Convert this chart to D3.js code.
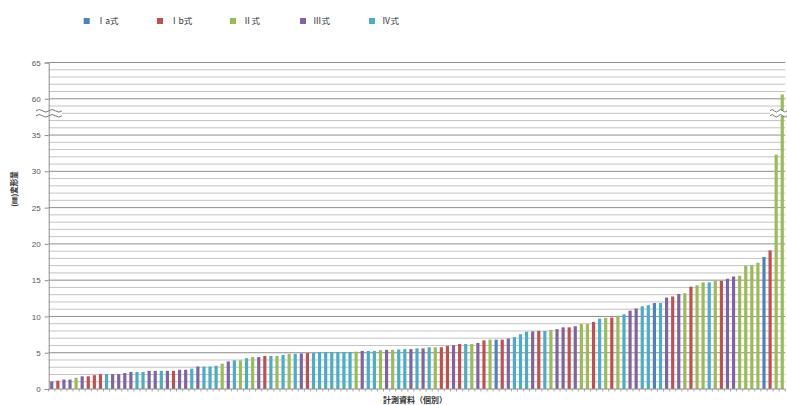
<!DOCTYPE html>
<html>
<head>
<meta charset="utf-8">
<script src="https://cdn.jsdelivr.net/npm/d3@7"></script>
<style>
  body { margin: 0; background: #fff; }
  svg { display: block; }
</style>
</head>
<body>
<svg id="chart" width="787" height="405"></svg>
<script>
// series (legend order) and colours
const seriesNames = ["Ⅰa式", "Ⅰb式", "Ⅱ式", "Ⅲ式", "Ⅳ式"]
const seriesColors = ["#4F81BD", "#C0504D", "#9BBB59", "#8064A2", "#4BACC6"]

// type of each bar: 0=Ⅰa 1=Ⅰb 2=Ⅱ 3=Ⅲ 4=Ⅳ
const barTypes = [
  3,1,3,3,2,3,1,1,1,4, 3,3,3,3,4,4,3,3,4,3,
  1,3,3,4,3,4,4,4,2,3, 4,2,4,2,3,1,4,2,4,2,
  4,3,1,4,4,4,4,4,4,4, 2,3,4,4,2,3,2,4,4,3,
  4,3,4,2,1,1,3,1,4,2, 3,1,2,0,1,3,4,4,4,3,
  1,4,2,3,3,1,3,2,2,1, 4,2,1,2,4,3,3,4,4,0,
  4,3,1,3,2,1,2,2,4,2, 1,3,3,2,2,2,2,0,1,2,
  2
]

// measured value of each bar (sorted ascending)
const barValues = [
  1.05,1.15,1.3,1.3,1.55,1.75,1.75,1.9,2.05,2.05,
  2.05,2.05,2.2,2.35,2.35,2.35,2.5,2.5,2.5,2.5,
  2.5,2.65,2.65,2.8,3.1,3.1,3.1,3.2,3.5,3.8,
  3.95,3.95,4.25,4.4,4.4,4.55,4.55,4.55,4.7,4.85,
  4.85,4.9,4.95,4.95,5.1,5.1,5.1,5.1,5.1,5.1,
  5.15,5.25,5.25,5.25,5.35,5.4,5.4,5.45,5.5,5.5,
  5.6,5.6,5.75,5.75,5.75,5.95,6.05,6.2,6.2,6.2,
  6.35,6.7,6.8,6.8,6.8,6.95,7.15,7.55,7.9,7.95,
  8.0,8.0,8.15,8.25,8.5,8.5,8.65,8.95,8.95,9.25,
  9.7,9.8,9.85,10.1,10.3,10.8,11.1,11.4,11.55,11.85,
  11.85,12.6,12.75,13.1,13.2,14.1,14.3,14.7,14.7,14.9,
  14.9,15.2,15.5,15.6,17.0,17.1,17.4,18.2,19.1,32.3,
  60.6
]

// axis break: 35 .. 60 is cut out (values above shift down by 20)
const breakFrom = 35, breakTo = 60, breakGap = breakTo - breakFrom - 5
const yTicks = [0, 5, 10, 15, 20, 25, 30, 35, 40, 45]
const yTickLabels = ["0", "5", "10", "15", "20", "25", "30", "35", "60", "65"]

const xTitle = "計測資料（個別）"
const yTitle = "(㎜)変形量"

const svg = d3.select("#chart")
const plotL = 48.7, plotR = 785.3, plotT = 62.5, plotB = 389

const toAxis = v => v > breakTo - 5 ? v - breakGap : v

const x = d3.scaleBand()
  .domain(d3.range(barValues.length))
  .range([plotL, plotR])
  .paddingInner(0.48)
  .paddingOuter(0.24)

const y = d3.scaleLinear().domain([0, 45]).range([plotB, plotT])

// minor grid (every 1)
svg.append("g")
  .selectAll("line")
  .data(d3.range(0, 46).filter(d => d % 5 !== 0))
  .join("line")
  .attr("x1", plotL).attr("x2", plotR)
  .attr("y1", d => y(d)).attr("y2", d => y(d))
  .attr("stroke", "#c4c4c4")
  .attr("stroke-width", 1)

// major grid (every 5)
svg.append("g")
  .selectAll("line")
  .data(yTicks.slice(1))
  .join("line")
  .attr("x1", plotL).attr("x2", plotR)
  .attr("y1", d => y(d)).attr("y2", d => y(d))
  .attr("stroke", "#8e8e8e")
  .attr("stroke-width", 1)

// break marks
function breakMark(x0, w) {
  const yb = y(38), h = 2.6, n = 2, seg = w / n
  const wave = off => {
    let p = "M" + x0 + "," + (yb + off)
    for (let i = 0; i < n; i++) {
      const xs = x0 + i * seg
      p += " Q" + (xs + seg / 4) + "," + (yb + off - h) + " " + (xs + seg / 2) + "," + (yb + off)
      p += " Q" + (xs + 3 * seg / 4) + "," + (yb + off + h) + " " + (xs + seg) + "," + (yb + off)
    }
    return p
  }
  svg.append("rect")
    .attr("x", x0).attr("y", yb - 2.5).attr("width", w).attr("height", 5)
    .attr("fill", "#fff")
  svg.append("path").attr("d", wave(-2.5)).attr("fill", "none").attr("stroke", "#666").attr("stroke-width", 0.9)
  svg.append("path").attr("d", wave(2.5)).attr("fill", "none").attr("stroke", "#666").attr("stroke-width", 0.9)
}

// bars
svg.append("g")
  .selectAll("rect")
  .data(barValues)
  .join("rect")
  .attr("x", (d, i) => x(i))
  .attr("y", d => y(toAxis(d)))
  .attr("width", x.bandwidth())
  .attr("height", d => plotB - y(toAxis(d)))
  .attr("fill", (d, i) => seriesColors[barTypes[i]])

breakMark(36, 26)
breakMark(770, 17)

// y axis
const yAxis = d3.axisLeft(y)
  .tickValues(yTicks)
  .tickFormat((d, i) => yTickLabels[i])
  .tickSize(4)
  .tickPadding(4)
svg.append("g")
  .attr("transform", "translate(" + plotL + ",0)")
  .call(yAxis)
  .call(g => g.select(".domain").attr("stroke", "#8e8e8e"))
  .call(g => g.selectAll(".tick line").attr("stroke", "#8e8e8e"))
  .call(g => g.selectAll("text")
    .attr("fill", "#555")
    .attr("font-family", "Liberation Sans, Arial, sans-serif")
    .attr("font-size", 8))

// x axis (category ticks between bars)
svg.append("line")
  .attr("x1", plotL).attr("x2", plotR)
  .attr("y1", plotB).attr("y2", plotB)
  .attr("stroke", "#8e8e8e")
svg.append("g")
  .selectAll("line")
  .data(d3.range(barValues.length + 1))
  .join("line")
  .attr("x1", i => plotL + i * x.step()).attr("x2", i => plotL + i * x.step())
  .attr("y1", plotB).attr("y2", plotB + 2.5)
  .attr("stroke", "#8e8e8e")
  .attr("stroke-width", 0.8)

// legend
const legendX = [96.7, 170, 243, 313, 382]
const legend = svg.append("g")
  .selectAll("g")
  .data(seriesNames)
  .join("g")
  .attr("transform", (d, i) => "translate(" + legendX[i] + ",21)")
legend.append("rect")
  .attr("x", -13).attr("y", -3)
  .attr("width", 6).attr("height", 6)
  .attr("fill", (d, i) => seriesColors[i])
legend.append("text")
  .attr("y", 3)
  .attr("font-family", "Noto Sans CJK JP, sans-serif")
  .attr("font-size", 8.5)
  .attr("fill", "#333")
  .text(d => d)

// axis titles
svg.append("text")
  .attr("x", 415).attr("y", 403)
  .attr("text-anchor", "middle")
  .attr("font-family", "Noto Sans CJK JP, sans-serif")
  .attr("font-size", 8)
  .attr("font-weight", "bold")
  .attr("fill", "#333")
  .text(xTitle)
svg.append("text")
  .attr("transform", "translate(17,189) rotate(-90)")
  .attr("text-anchor", "middle")
  .attr("font-family", "Noto Sans CJK JP, sans-serif")
  .attr("font-size", 7.5)
  .attr("font-weight", "bold")
  .attr("fill", "#333")
  .text(yTitle)
</script>
</body>
</html>
